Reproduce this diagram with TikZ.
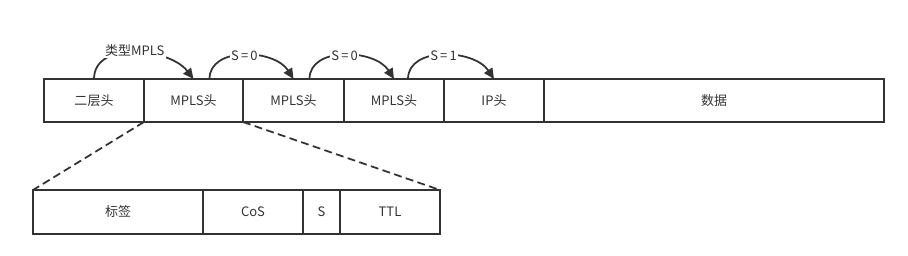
\documentclass[tikz,border=0pt]{standalone}
\usepackage{fontspec}
\setmainfont{Noto Sans CJK SC}
\usetikzlibrary{
  arrows.meta,
  positioning,
  calc,
}
\definecolor{lineGray}{HTML}{333333}
\tikzset{
  field/.style={
    rectangle, draw=lineGray, line width=1pt, inner sep=0pt, outer sep=0pt,
    anchor=west, text=lineGray, font=\fontsize{7.4}{9}\selectfont,
  },
  hopArrow/.style={
    -{Triangle[length=6pt,width=5.5pt]}, line width=1pt, draw=lineGray,
  },
  hopLabel/.style={
    fill=white, inner sep=0.8pt, text=lineGray, font=\fontsize{7.4}{9}\selectfont,
  },
  zoomLine/.style={
    line width=1pt, draw=lineGray, dash pattern=on 4.5pt off 2.5pt,
  },
}

\begin{document}
\begin{tikzpicture}[x=0.02cm, y=-0.02cm]
\useasboundingbox (0,0) rectangle (908,256);

% packet: one row of headers
\foreach \i/\x/\w/\txt in {%
  0/44/100/二层头,%
  1/144/99/MPLS头,%
  2/243/101/MPLS头,%
  3/344/100/MPLS头,%
  4/444/100/IP头,%
  5/544/340/数据%
}
{
  \node[field, minimum width=\w*0.02cm, minimum height=0.86cm]
   (f\i) at (\x, 100.5) {\txt};
}

% one MPLS header, opened up
\foreach \i/\x/\w/\txt in {%
  0/33/170/标签,%
  1/203/100/CoS,%
  2/303/37/S,%
  3/340/100/TTL%
}
{
  \node[field, minimum width=\w*0.02cm, minimum height=0.88cm]
   (l\i) at (\x, 212) {\txt};
}

\draw[hopArrow] (f0.north) .. controls +(0,-39) and +(-24,-31) .. (f1.north)
  node[midway, hopLabel, yshift=0.04cm] {类型MPLS};
\draw[hopArrow] ([xshift=0.32cm]f1.north) .. controls +(0,-33) and +(-19,-30) .. (f2.north)
  node[midway, hopLabel] {S\,=\,0};
\draw[hopArrow] ([xshift=0.32cm]f2.north) .. controls +(0,-33) and +(-19,-30) .. (f3.north)
  node[midway, hopLabel] {S\,=\,0};
\draw[hopArrow] ([xshift=0.28cm]f3.north) .. controls +(0,-33) and +(-20,-30) .. (f4.north)
  node[midway, hopLabel] {S\,=\,1};

\draw[zoomLine] (f1.south west) -- (l0.north west);
\draw[zoomLine] (f1.south east) -- (l3.north east);

\end{tikzpicture}
\end{document}
